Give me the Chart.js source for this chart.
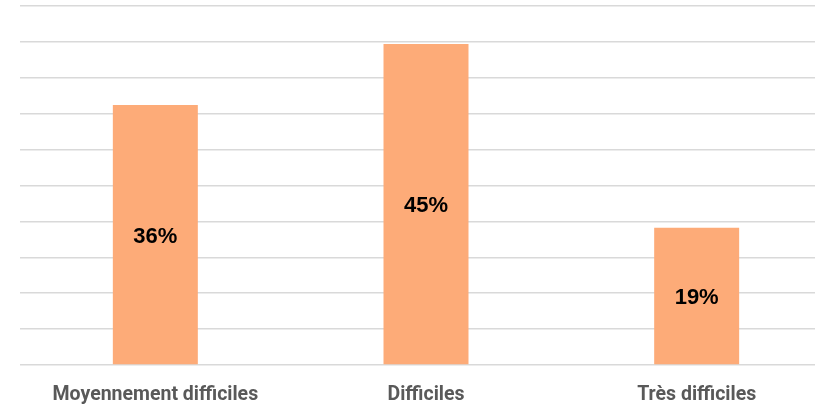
<!DOCTYPE html>
<html lang="fr">
<head>
    <meta charset="UTF-8">
    <title>Difficulté</title>
    <style>
        html, body {
            margin: 0;
            padding: 0;
            overflow: hidden;
            background: #ffffff;
        }
        #wrap {
            width: 832px;
            height: 408px;
        }
    </style>
    <script src="https://cdn.jsdelivr.net/npm/chart.js"></script>
</head>
<body>
    <div id="wrap"><canvas id="chart"></canvas></div>

    <script>
        // categories and values (percent)
        var categories = ['Moyennement difficiles', 'Difficiles', 'Très difficiles'];
        var values = [36.2, 44.7, 19.1];

        // draw the % label in the middle of each bar
        var barLabels = {
            id: 'barLabels',
            afterDatasetsDraw: function (chart) {
                var ctx = chart.ctx;
                var meta = chart.getDatasetMeta(0);
                ctx.save();
                ctx.font = 'bold 22px "Liberation Sans", Arial, sans-serif';
                ctx.fillStyle = '#000000';
                ctx.textAlign = 'center';
                ctx.textBaseline = 'middle';
                meta.data.forEach(function (bar, i) {
                    var mid = (bar.y + bar.base) / 2;
                    ctx.fillText(Math.round(values[i]) + '%', bar.x, mid + 2);
                });
                ctx.restore();
            }
        };

        var ctx = document.getElementById('chart').getContext('2d');
        new Chart(ctx, {
            type: 'bar',
            data: {
                labels: categories,
                datasets: [{
                    data: values,
                    backgroundColor: '#FDAB78',
                    borderWidth: 0,
                    categoryPercentage: 1,
                    barPercentage: 0.314
                }]
            },
            options: {
                responsive: true,
                maintainAspectRatio: false,
                animation: false,
                layout: {
                    padding: { left: 20, right: 0, top: 6, bottom: 0 }
                },
                plugins: {
                    legend: { display: false },
                    tooltip: { enabled: false }
                },
                scales: {
                    x: {
                        grid: { display: false },
                        border: { display: false },
                        afterFit: function (axis) { axis.height = 43; },
                        ticks: {
                            color: '#595959',
                            padding: 10,
                            maxRotation: 0,
                            autoSkip: false,
                            font: { family: 'Roboto', weight: 'bold', size: 19.5 }
                        }
                    },
                    y: {
                        min: 0,
                        max: 50,
                        afterFit: function (axis) { axis.width = 0; },
                        ticks: { display: false, stepSize: 5 },
                        border: { display: false },
                        grid: { color: '#d9d9d9', lineWidth: 1.5, drawTicks: false }
                    }
                }
            },
            plugins: [barLabels]
        });
    </script>
</body>
</html>
